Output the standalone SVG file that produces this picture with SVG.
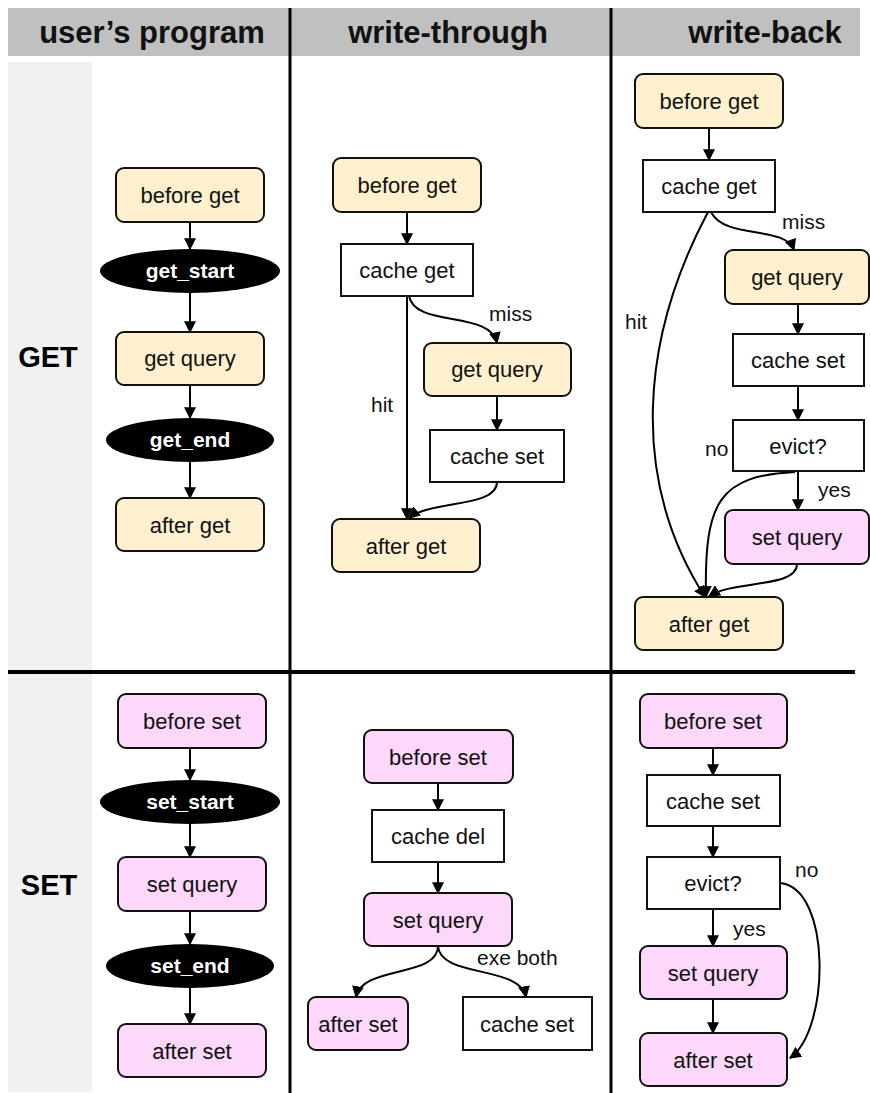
<svg xmlns="http://www.w3.org/2000/svg" width="870" height="1093" viewBox="0 0 870 1093">
<style>
.hdr{font-family:"Liberation Sans",Arial,sans-serif;font-weight:bold;font-size:31px;fill:#111;text-anchor:middle}
.row{font-family:"Liberation Sans",Arial,sans-serif;font-weight:bold;font-size:29px;fill:#000;text-anchor:middle}
.y rect{fill:#fff1cf;stroke:#111;stroke-width:2}
.p rect{fill:#fdd8fb;stroke:#111;stroke-width:2}
.w rect{fill:#fff;stroke:#111;stroke-width:2}
.e ellipse{fill:#000}
text.t{font-family:"Liberation Sans",Arial,sans-serif;font-size:22px;fill:#111;text-anchor:middle}
text.et{font-family:"Liberation Sans",Arial,sans-serif;font-weight:bold;font-size:21px;fill:#fff;text-anchor:middle}
.lbl{font-family:"Liberation Sans",Arial,sans-serif;font-size:21px;fill:#111}
.edges path{fill:none;stroke:#000;stroke-width:2;marker-end:url(#ah)}
.grid line{stroke:#000}
</style>
<defs>
<marker id="ah" viewBox="0 0 10 10" refX="9" refY="5" markerWidth="12" markerHeight="12" markerUnits="userSpaceOnUse" orient="auto">
<path d="M0,0 L10,5 L0,10 z" fill="#000"/>
</marker>
</defs>
<rect width="870" height="1093" fill="#fff"/>
<g id="background">
<rect x="8" y="8" width="852" height="48" fill="#c0c0c0"/>
<rect x="8" y="62" width="84" height="1030" fill="#f1f1f1"/>
</g>
<g class="grid" id="grid">
<line x1="290" y1="8" x2="290" y2="1093" stroke-width="3"/>
<line x1="611" y1="8" x2="611" y2="1093" stroke-width="3"/>
<line x1="8" y1="672" x2="855" y2="672" stroke-width="4"/>
</g>
<g id="headers">
<text class="hdr" x="152" y="43">user’s program</text>
<text class="hdr" x="448" y="43">write-through</text>
<text class="hdr" x="765" y="43">write-back</text>
<text class="row" x="48" y="367">GET</text>
<text class="row" x="49" y="895">SET</text>
</g>
<g class="edges" id="connectors">
<path d="M190,222 L190,249"/>
<path d="M190,293 L190,332"/>
<path d="M190,385 L190,418"/>
<path d="M190,462 L190,498"/>
<path d="M190,748 L190,780"/>
<path d="M190,824 L190,857"/>
<path d="M190,911 L190,944"/>
<path d="M190,988 L190,1024"/>
<path d="M407,212 L407,244"/>
<path d="M407,296 L407,519"/>
<path d="M409,296 C415,328 490,310 497,343"/>
<path d="M497,396 L497,430"/>
<path d="M497,482 C497,508 430,500 409,518"/>
<path d="M709,128 L709,160"/>
<path d="M711,212 C725,240 785,225 794,250"/>
<path d="M708,212 C640,340 630,480 705,597"/>
<path d="M798,304 L798,334"/>
<path d="M798,386 L798,420"/>
<path d="M798,471 L798,510"/>
<path d="M795,472 C720,476 704,500 706,597"/>
<path d="M797,564 C797,588 735,580 709,596"/>
<path d="M438,783 L438,810"/>
<path d="M438,862 L438,893"/>
<path d="M438,946 C438,978 362,965 356,997"/>
<path d="M438,946 C440,978 520,965 526,997"/>
<path d="M713,748 L713,775"/>
<path d="M713,826 L713,857"/>
<path d="M713,909 L713,946"/>
<path d="M713,999 L713,1033"/>
<path d="M780,883 C832,888 830,1030 790,1058"/>
</g>
<g id="edge-labels">
<text class="lbl" x="489" y="321">miss</text>
<text class="lbl" x="371" y="412">hit</text>
<text class="lbl" x="782" y="229">miss</text>
<text class="lbl" x="625" y="329">hit</text>
<text class="lbl" x="705" y="456">no</text>
<text class="lbl" x="818" y="497">yes</text>
<text class="lbl" x="477" y="965">exe both</text>
<text class="lbl" x="795" y="877">no</text>
<text class="lbl" x="733" y="936">yes</text>
</g>
<g id="u_before_get" class="y"><rect x="116" y="168" width="148" height="54" rx="8"/><text class="t" x="190" y="203">before get</text></g>
<g id="u_get_start" class="e"><ellipse cx="190" cy="271" rx="90" ry="22"/><text class="et" x="190" y="278">get_start</text></g>
<g id="u_get_query" class="y"><rect x="116" y="332" width="148" height="53" rx="8"/><text class="t" x="190" y="366">get query</text></g>
<g id="u_get_end" class="e"><ellipse cx="190" cy="440" rx="84" ry="22"/><text class="et" x="190" y="447">get_end</text></g>
<g id="u_after_get" class="y"><rect x="116" y="498" width="148" height="53" rx="8"/><text class="t" x="190" y="533">after get</text></g>
<g id="u_before_set" class="p"><rect x="118" y="694" width="148" height="54" rx="8"/><text class="t" x="192" y="729">before set</text></g>
<g id="u_set_start" class="e"><ellipse cx="190" cy="802" rx="90" ry="22"/><text class="et" x="190" y="809">set_start</text></g>
<g id="u_set_query" class="p"><rect x="118" y="857" width="148" height="54" rx="8"/><text class="t" x="192" y="892">set query</text></g>
<g id="u_set_end" class="e"><ellipse cx="190" cy="966" rx="84" ry="22"/><text class="et" x="190" y="973">set_end</text></g>
<g id="u_after_set" class="p"><rect x="118" y="1024" width="148" height="53" rx="8"/><text class="t" x="192" y="1059">after set</text></g>
<g id="wt_before_get" class="y"><rect x="333" y="158" width="148" height="54" rx="8"/><text class="t" x="407" y="193">before get</text></g>
<g id="wt_cache_get" class="w"><rect x="341" y="244" width="132" height="52"/><text class="t" x="407" y="278">cache get</text></g>
<g id="wt_get_query" class="y"><rect x="424" y="343" width="147" height="53" rx="8"/><text class="t" x="497" y="377">get query</text></g>
<g id="wt_cache_set" class="w"><rect x="430" y="430" width="134" height="52"/><text class="t" x="497" y="464">cache set</text></g>
<g id="wt_after_get" class="y"><rect x="332" y="519" width="148" height="53" rx="8"/><text class="t" x="406" y="554">after get</text></g>
<g id="wb_before_get" class="y"><rect x="635" y="74" width="148" height="54" rx="8"/><text class="t" x="709" y="109">before get</text></g>
<g id="wb_cache_get" class="w"><rect x="643" y="160" width="132" height="52"/><text class="t" x="709" y="194">cache get</text></g>
<g id="wb_get_query" class="y"><rect x="725" y="250" width="144" height="54" rx="8"/><text class="t" x="797" y="285">get query</text></g>
<g id="wb_cache_set" class="w"><rect x="733" y="334" width="131" height="52"/><text class="t" x="798" y="368">cache set</text></g>
<g id="wb_evict" class="w"><rect x="733" y="420" width="131" height="51"/><text class="t" x="798" y="454">evict?</text></g>
<g id="wb_set_query" class="p"><rect x="725" y="510" width="144" height="54" rx="8"/><text class="t" x="797" y="545">set query</text></g>
<g id="wb_after_get" class="y"><rect x="635" y="597" width="148" height="53" rx="8"/><text class="t" x="709" y="632">after get</text></g>
<g id="wt_before_set" class="p"><rect x="364" y="730" width="149" height="53" rx="8"/><text class="t" x="438" y="765">before set</text></g>
<g id="wt_cache_del" class="w"><rect x="372" y="810" width="132" height="52"/><text class="t" x="438" y="844">cache del</text></g>
<g id="wt_set_query" class="p"><rect x="364" y="893" width="148" height="53" rx="8"/><text class="t" x="438" y="928">set query</text></g>
<g id="wt_after_set" class="p"><rect x="308" y="997" width="100" height="53" rx="8"/><text class="t" x="358" y="1032">after set</text></g>
<g id="wt_cache_set2" class="w"><rect x="463" y="997" width="129" height="53"/><text class="t" x="527" y="1032">cache set</text></g>
<g id="wb_before_set" class="p"><rect x="640" y="694" width="147" height="54" rx="8"/><text class="t" x="713" y="729">before set</text></g>
<g id="wb_cache_set2" class="w"><rect x="647" y="775" width="133" height="51"/><text class="t" x="713" y="809">cache set</text></g>
<g id="wb_evict2" class="w"><rect x="647" y="857" width="133" height="52"/><text class="t" x="713" y="891">evict?</text></g>
<g id="wb_set_query2" class="p"><rect x="640" y="946" width="147" height="53" rx="8"/><text class="t" x="713" y="981">set query</text></g>
<g id="wb_after_set" class="p"><rect x="640" y="1033" width="147" height="53" rx="8"/><text class="t" x="713" y="1068">after set</text></g>
</svg>
